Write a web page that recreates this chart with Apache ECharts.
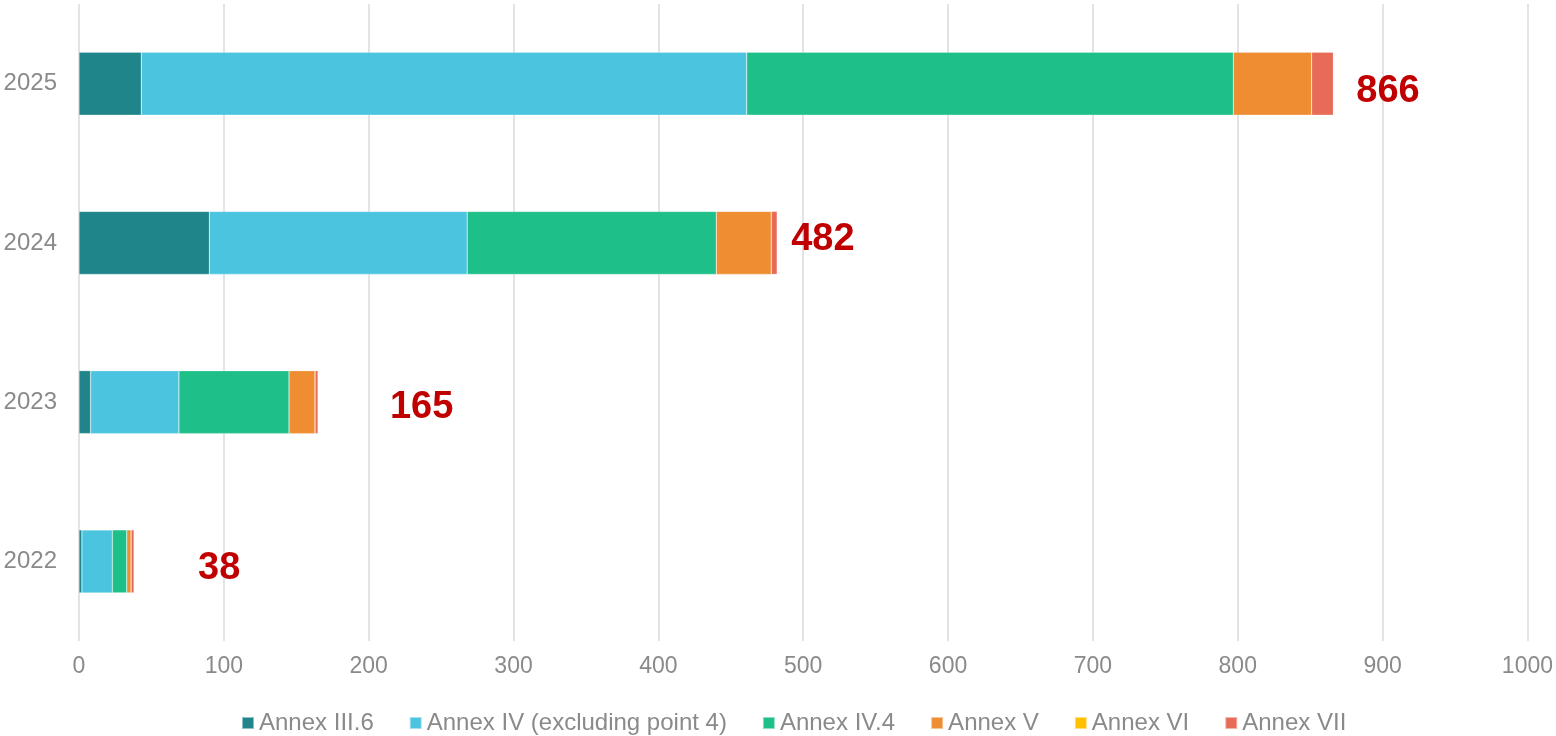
<!DOCTYPE html>
<html>
<head>
<meta charset="utf-8">
<script src="https://cdn.jsdelivr.net/npm/echarts@6/dist/echarts.min.js"></script>
<style>html,body{margin:0;padding:0;background:#fff}#c{width:1556px;height:736px}</style>
</head>
<body>
<div id="c"></div>
<script>
const years = ['2022', '2023', '2024', '2025'];
const annexIII6 = [2, 8, 90, 43];
const annexIV = [21, 61, 178, 418];
const annexIV4 = [10, 76, 172, 336];
const annexV = [3, 18, 38, 54];
const annexVI = [0, 0, 0, 0];
const annexVII = [2, 2, 4, 15];
const totals = [38, 165, 482, 866];
const xTicks = [0, 100, 200, 300, 400, 500, 600, 700, 800, 900, 1000];

const seriesDefs = [
  ['Annex III.6', annexIII6, '#1F858A'],
  ['Annex IV (excluding point 4)', annexIV, '#4BC5DF'],
  ['Annex IV.4', annexIV4, '#1FBF89'],
  ['Annex V', annexV, '#EE8D31'],
  ['Annex VI', annexVI, '#FFC000'],
  ['Annex VII', annexVII, '#E86B57']
];
const labelOffsets = [[64, 7], [72, 5], [14, -3], [23, 8]];
const font = '"Liberation Sans", Arial, sans-serif';

const series = seriesDefs.map(([name, data, color]) => ({
  name, type: 'bar', stack: 'total', data, barWidth: 63,
  itemStyle: { color, borderColor: 'rgba(255,255,255,0.5)', borderWidth: 0.5 },
  emphasis: { disabled: true }
}));
series.push({
  name: 'Total', type: 'bar', stack: 'total', barWidth: 63,
  data: totals.map((t, i) => ({
    value: 0,
    label: { offset: labelOffsets[i] }
  })),
  itemStyle: { color: 'transparent' },
  label: {
    show: true, position: 'right', distance: 0,
    formatter: p => String(totals[p.dataIndex]),
    color: '#C00000', fontSize: 38, fontWeight: 'bold', fontFamily: font
  },
  emphasis: { disabled: true }
});

const chart = echarts.init(document.getElementById('c'), null, { renderer: 'canvas' });
chart.setOption({
  animation: false,
  backgroundColor: '#ffffff',
  grid: { left: 79, right: 27, top: 4, bottom: 95, containLabel: false },
  legend: {
    data: seriesDefs.map(s => s[0]),
    left: 236, top: 706,
    icon: 'rect', itemWidth: 12, itemHeight: 12, itemGap: 35,
    textStyle: { color: '#8A8A8A', fontSize: 24, fontFamily: font }
  },
  xAxis: {
    type: 'value', min: 0, max: 1000, interval: 100,
    axisLine: { show: false }, axisTick: { show: false },
    splitLine: { show: true, lineStyle: { color: '#E3E3E3', width: 2 } },
    axisLabel: { color: '#8A8A8A', fontSize: 23, fontFamily: font, margin: 14,
      formatter: v => xTicks.includes(v) ? String(v) : '' }
  },
  yAxis: {
    type: 'category', data: years,
    axisLine: { show: false }, axisTick: { show: false },
    axisLabel: { color: '#8A8A8A', fontSize: 24, fontFamily: font, margin: 22 }
  },
  series
});
</script>
</body>
</html>
